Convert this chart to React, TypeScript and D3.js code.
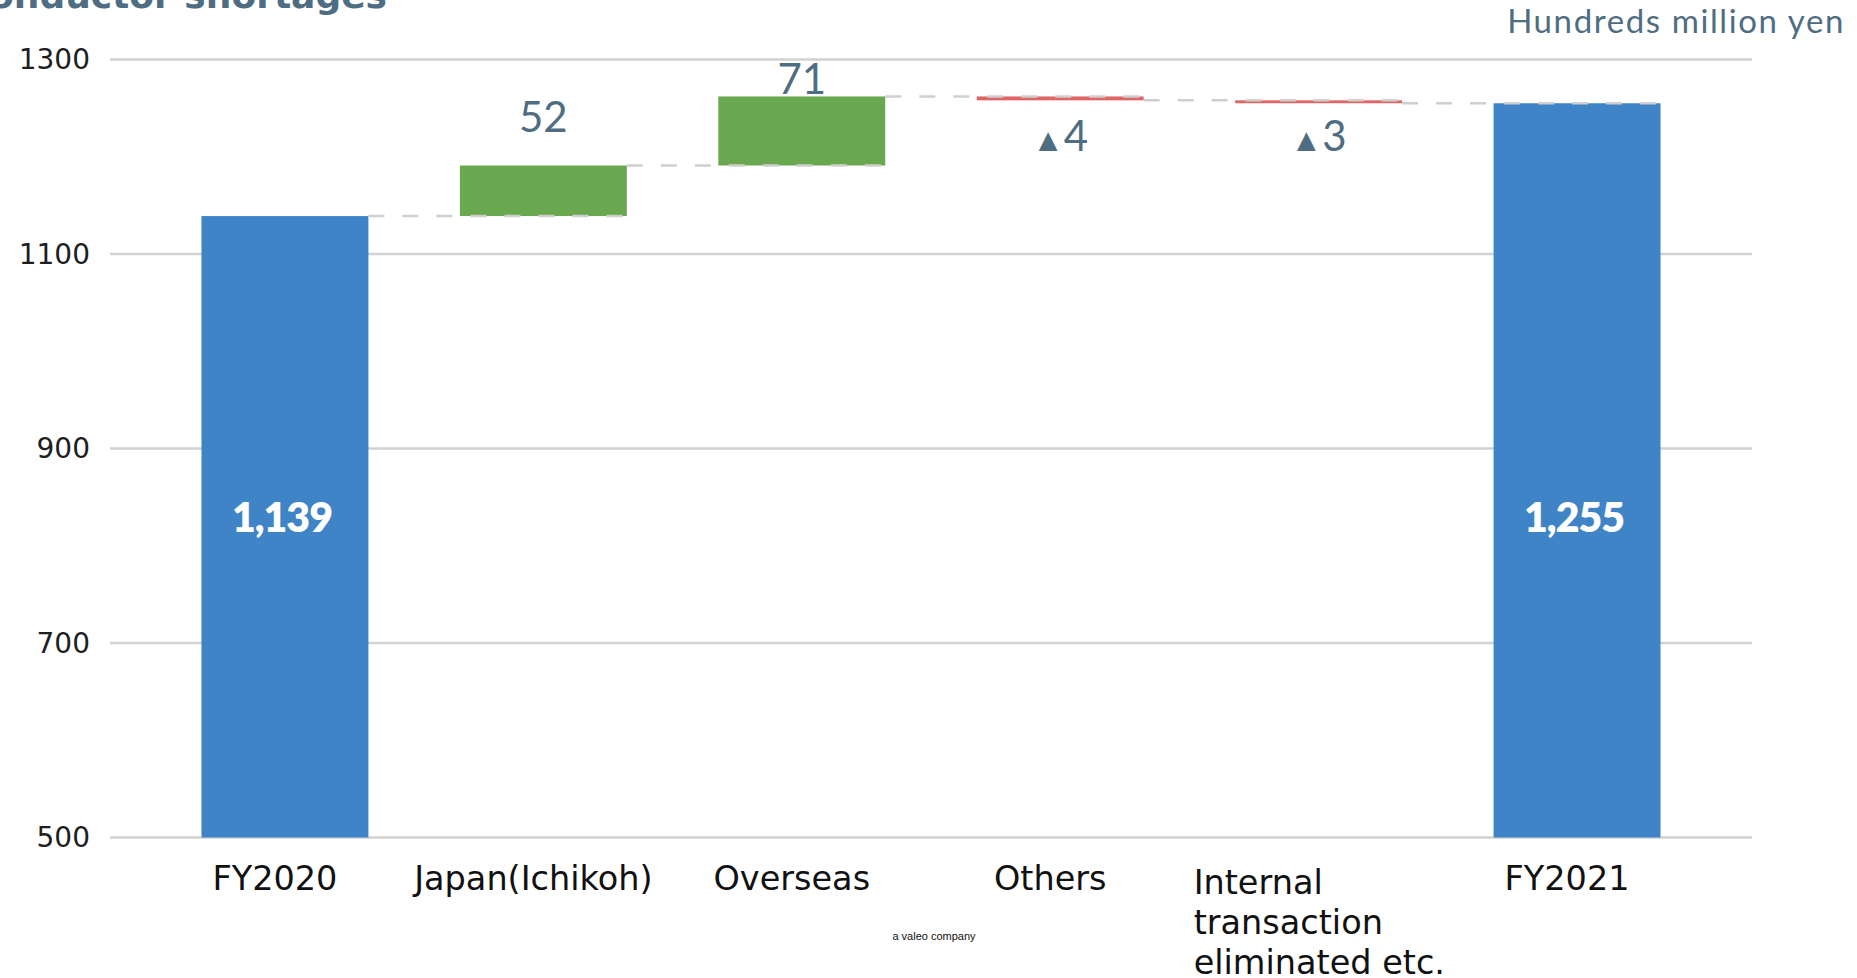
import React, { useEffect } from "react";
import * as d3 from "d3";

// Sales bridge, FY2020 -> FY2021 (hundreds of millions of yen)
const categories = ["FY2020", "Japan(Ichikoh)", "Overseas", "Others", "Internal transaction eliminated etc.", "FY2021"];
const tickLines = [["FY2020"], ["Japan(Ichikoh)"], ["Overseas"], ["Others"], ["Internal", "transaction", "eliminated etc."], ["FY2021"]];
const kinds = ["total", "delta", "delta", "delta", "delta", "total"];
const values = [1139, 52, 71, -4, -3, 1255];
const yTicks = [500, 700, 900, 1100, 1300];
const unitLabel = "Hundreds million yen";
const titleText = "Impact of semiconductor shortages";
const footerText = "a valeo company";

// label offsets (px) from the bar edge for the change labels
const deltaLabelOffset = [0, -34, -2, 51, 48, 0];

const W = 1857;
const H = 978;
const SLATE = "#4f6d82";
const BLUE = "#3e84c6";
const GREEN = "#6aa84f";
const RED = "#e06666";
const GRID = "#d2d2d2";

export default function App() {
  useEffect(() => {
    document.body.style.margin = "0";
    document.body.style.overflow = "hidden";
  }, []);

  const x = d3.scaleBand<string>().domain(categories).range([110, 1752]).paddingInner(0.354).paddingOuter(0.354);
  const y = d3.scaleLinear().domain([500, 1300]).range([837.5, 59.5]);
  const bw = x.bandwidth();

  // running totals for the waterfall
  let cum = 0;
  const bars = values.map((v, i) => {
    const cat = categories[i];
    if (kinds[i] === "total") {
      cum = v;
      return { cat, kind: "total", v, lo: y.domain()[0], hi: v, end: v };
    }
    const start = cum;
    cum = cum + v;
    return { cat, kind: v >= 0 ? "up" : "down", v, lo: Math.min(start, cum), hi: Math.max(start, cum), end: cum };
  });

  const fmtTotal = d3.format(",");
  const totalLabelY = (y(bars[0].lo) + y(bars[0].hi)) / 2 + 5;

  return (
    <svg width={W} height={H} style={{ position: "absolute", left: 0, top: 0, background: "#fff" }}>
      {/* title (partly above the frame) */}
      <text x={387} y={7.5} textAnchor="end" fontFamily="DejaVu Sans" fontWeight={700} fontSize={36} fill={SLATE}>
        {titleText}
      </text>
      <text x={1845} y={33} textAnchor="end" fontFamily="Lato" fontWeight={400} fontSize={33} letterSpacing={1.6} fill={SLATE}>
        {unitLabel}
      </text>

      {/* gridlines and y ticks */}
      {yTicks.map((t) => (
        <g key={t}>
          <line x1={110} x2={1752} y1={y(t)} y2={y(t)} stroke={GRID} strokeWidth={2.5} />
          <text x={90} y={y(t)} dy="0.35em" textAnchor="end" fontFamily="DejaVu Sans" fontSize={28} fill="#1e1e1e">
            {t}
          </text>
        </g>
      ))}

      {/* bars */}
      {bars.map((b) => (
        <rect
          key={b.cat}
          x={x(b.cat)}
          y={y(b.hi)}
          width={bw}
          height={Math.max(1, y(b.lo) - y(b.hi))}
          fill={b.kind === "total" ? BLUE : b.kind === "up" ? GREEN : RED}
        />
      ))}

      {/* dashed connectors */}
      {bars.slice(0, -1).map((b, i) => {
        const next = bars[i + 1];
        return (
          <line
            key={"c" + i}
            x1={(x(b.cat) as number) + bw}
            x2={(x(next.cat) as number) + bw}
            y1={y(b.end)}
            y2={y(b.end)}
            stroke="#cfcfcf"
            strokeWidth={2.5}
            strokeDasharray="16 18"
          />
        );
      })}

      {/* totals inside the blue bars */}
      {bars.filter((b) => b.kind === "total").map((b) => (
        <text
          key={"t" + b.cat}
          x={(x(b.cat) as number) + bw / 2 - 3}
          y={totalLabelY}
          textAnchor="middle"
          fontFamily="Lato"
          fontWeight={800}
          fontSize={41}
          letterSpacing={-1}
          fill="#fff"
        >
          {fmtTotal(b.v)}
        </text>
      ))}

      {/* change labels */}
      {bars.map((b, i) => {
        if (b.kind === "total") return null;
        const cx = (x(b.cat) as number) + bw / 2;
        const yy = b.kind === "up" ? y(b.hi) + deltaLabelOffset[i] : y(b.lo) + deltaLabelOffset[i];
        return (
          <text key={"d" + b.cat} x={cx} y={yy} textAnchor="middle" fontFamily="Lato" fontWeight={400} fontSize={42} fill={SLATE}>
            {b.v < 0 ? (
              <>
                <tspan fontSize={32}>▲</tspan>
                <tspan>{Math.abs(b.v)}</tspan>
              </>
            ) : (
              b.v
            )}
          </text>
        );
      })}

      {/* category labels */}
      {tickLines.map((lines, i) => {
        const cx = (x(categories[i]) as number) + bw / 2;
        if (lines.length === 1) {
          return (
            <text key={"x" + i} x={cx - 10} y={889.5} textAnchor="middle" fontFamily="DejaVu Sans" fontSize={33.5} fill="#111">
              {lines[0]}
            </text>
          );
        }
        return (
          <text key={"x" + i} x={cx - 125} y={894} textAnchor="start" fontFamily="DejaVu Sans" fontSize={33.5} fill="#111">
            {lines.map((l, k) => (
              <tspan key={k} x={cx - 125} dy={k === 0 ? 0 : 40}>
                {l}
              </tspan>
            ))}
          </text>
        );
      })}

      <text x={934} y={940} textAnchor="middle" fontFamily="Liberation Sans" fontSize={11} fill="#111">
        {footerText}
      </text>
    </svg>
  );
}
